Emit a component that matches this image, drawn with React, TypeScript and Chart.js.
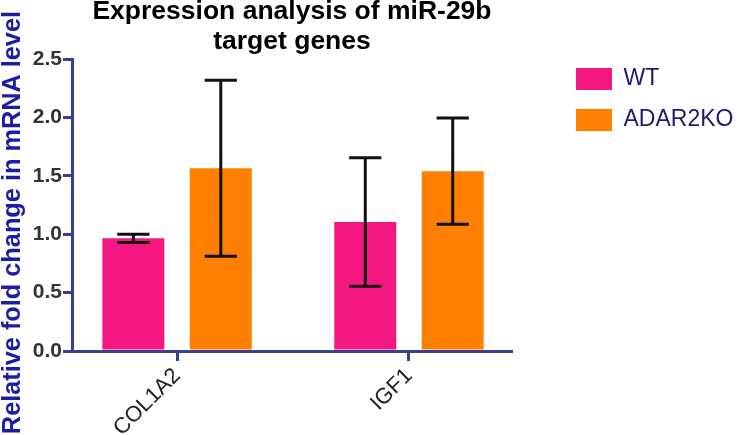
import React, { useEffect, useRef } from 'react';
import { Chart, registerables } from 'chart.js';

Chart.register(...registerables);

// ---- data ----
const TITLE_LINES = ['Expression analysis of miR-29b', 'target genes'];
const Y_TITLE = 'Relative fold change in mRNA level';
const CATEGORIES = ['COL1A2', 'IGF1'];
const SERIES_LABELS = ['WT', 'ADAR2KO'];
const WT_MEAN = [0.965, 1.105];
const WT_ERR = [0.035, 0.55];
const KO_MEAN = [1.565, 1.54];
const KO_ERR = [0.753, 0.455];
const Y_MIN = 0;
const Y_MAX = 2.5;
const Y_STEP = 0.5;
const X_MIN = -0.453;
const X_MAX = 1.444;

const MEANS = [WT_MEAN, KO_MEAN];
const ERRORS = [WT_ERR, KO_ERR];
const COLORS = ['#f4177f', '#ff8000'];

const FONT = "'Liberation Sans', Arial, Helvetica, sans-serif";
const AXIS = '#3b3f8f';

const errorBars = {
  id: 'errorBars',
  afterDatasetsDraw(chart: any) {
    const { ctx } = chart;
    const yScale = chart.scales.y;
    chart.data.datasets.forEach((ds: any, di: number) => {
      const meta = chart.getDatasetMeta(di);
      meta.data.forEach((bar: any, i: number) => {
        const v = MEANS[di][i];
        const e = ERRORS[di][i];
        const top = yScale.getPixelForValue(v + e);
        const bot = yScale.getPixelForValue(v - e);
        const half = bar.width * 0.26;
        ctx.save();
        ctx.strokeStyle = '#111';
        ctx.lineWidth = 3;
        ctx.lineCap = 'butt';
        ctx.beginPath();
        ctx.moveTo(bar.x, top);
        ctx.lineTo(bar.x, bot);
        ctx.moveTo(bar.x - half, top);
        ctx.lineTo(bar.x + half, top);
        ctx.moveTo(bar.x - half, bot);
        ctx.lineTo(bar.x + half, bot);
        ctx.stroke();
        ctx.restore();
      });
    });
  },
};

export default function App() {
  const ref = useRef<HTMLCanvasElement | null>(null);

  useEffect(() => {
    document.body.style.margin = '0';
    if (!ref.current) return;
    const chart = new Chart(ref.current, {
      type: 'bar',
      data: {
        datasets: SERIES_LABELS.map((label, di) => ({
          label,
          data: CATEGORIES.map((_, i) => ({ x: i, y: MEANS[di][i] })),
          backgroundColor: COLORS[di],
          borderWidth: 0,
          categoryPercentage: 0.754,
          barPercentage: 0.709,
          xAxisID: 'x',
          yAxisID: 'y',
        })),
      },
      options: {
        responsive: false,
        animation: false,
        devicePixelRatio: 1,
        layout: { padding: { right: -3.4 } },
        plugins: {
          tooltip: { enabled: false },
          title: {
            display: true,
            text: TITLE_LINES,
            color: '#000',
            fullSize: false,
            font: { family: FONT, size: 26.5, weight: 'bold', lineHeight: 30 / 26.5 },
            padding: { top: -3.7, bottom: 2.7 },
          },
          legend: {
            position: 'right',
            align: 'start',
            fullSize: true,
            maxWidth: 220,
            title: {
              display: true,
              text: '',
              padding: { top: 39.5, bottom: 0 },
              font: { size: 10, lineHeight: 1 },
            },
            labels: {
              boxWidth: 36,
              boxHeight: 22,
              padding: 18,
              color: '#1b1b6f',
              font: { family: FONT, size: 23 },
            },
          },
        },
        scales: {
          x: {
            type: 'linear',
            min: X_MIN,
            max: X_MAX,
            offset: false,
            afterBuildTicks: (s: any) => {
              s.ticks = CATEGORIES.map((_, i) => ({ value: i }));
            },
            ticks: {
              callback: (_v: any, i: number) => CATEGORIES[i],
              autoSkip: false,
              minRotation: 45,
              maxRotation: 45,
              color: '#222',
              padding: 2,
              font: { family: FONT, size: 22 },
            },
            grid: {
              drawOnChartArea: false,
              offset: false,
              tickLength: 10,
              tickWidth: 3,
              tickColor: AXIS,
              color: AXIS,
              lineWidth: 3,
            },
            border: { display: true, color: AXIS, width: 3 },
            afterFit: (s: any) => {
              s.height = 84;
            },
          },
          y: {
            type: 'linear',
            position: 'left',
            min: Y_MIN,
            max: Y_MAX,
            ticks: {
              stepSize: Y_STEP,
              callback: (v: any) => Number(v).toFixed(1),
              color: '#333',
              padding: 1,
              font: { family: FONT, size: 21, weight: 'bold' },
            },
            grid: {
              drawOnChartArea: false,
              tickLength: 9,
              tickWidth: 3,
              tickColor: AXIS,
              color: AXIS,
              lineWidth: 3,
            },
            border: { display: true, color: AXIS, width: 3 },
            title: {
              display: true,
              text: Y_TITLE + '     ',
              color: '#1d1da3',
              padding: 0,
              font: { family: FONT, size: 25.3, weight: 'bold', lineHeight: 1 },
            },
            afterFit: (s: any) => {
              s.width = 72;
            },
          },
          gap: {
            type: 'linear',
            position: 'right',
            display: true,
            grid: { display: false, drawTicks: false },
            border: { display: false },
            ticks: { display: false },
            afterFit: (s: any) => {
              s.width = 46;
            },
          },
        },
      } as any,
      plugins: [errorBars],
    });
    return () => chart.destroy();
  }, []);

  return <canvas ref={ref} width={740} height={435} style={{ display: 'block' }} />;
}
